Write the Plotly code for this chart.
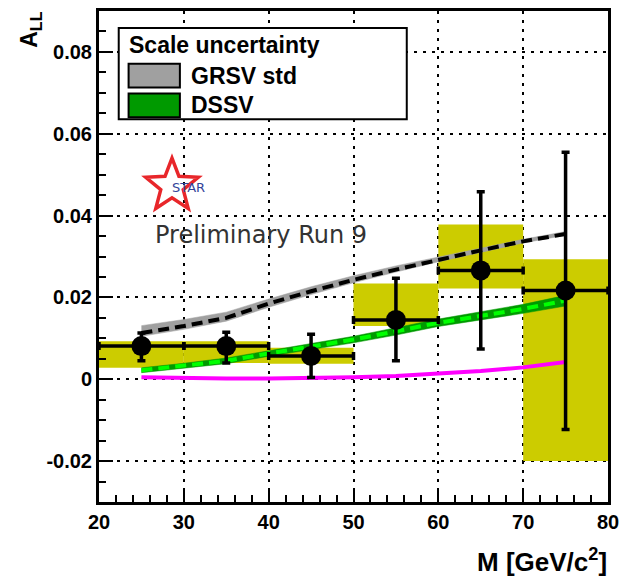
import math
import plotly.graph_objects as go

# ---------------- data ----------------
bin_lo = [20, 30, 40, 50, 60, 70]
bin_hi = [30, 40, 50, 60, 70, 80]
mass = [25, 35, 45, 55, 65, 75]
a_ll = [0.0081, 0.0081, 0.0057, 0.0145, 0.0266, 0.0217]
stat_top = [0.0113, 0.0115, 0.0110, 0.0247, 0.0458, 0.0555]
stat_bot = [0.0045, 0.0040, 0.0004, 0.0045, 0.0074, -0.0123]
sys_lo = [0.0028, 0.0040, 0.0038, 0.0130, 0.0222, -0.0200]
sys_hi = [0.0093, 0.0093, 0.0077, 0.0234, 0.0378, 0.0293]

theory_x = [25, 30, 35, 40, 45, 50, 55, 60, 65, 70, 75]
grsv_center = [0.0113, 0.0130, 0.0150, 0.0185, 0.0215, 0.0243, 0.0268, 0.0292, 0.0315, 0.0337, 0.0355]
grsv_hi = [0.0131, 0.0146, 0.0164, 0.0196, 0.0226, 0.0253, 0.0277, 0.0299, 0.0321, 0.0342, 0.0361]
grsv_lo = [0.0105, 0.0122, 0.0142, 0.0176, 0.0207, 0.0236, 0.0262, 0.0287, 0.0310, 0.0333, 0.0352]
dssv_center = [0.0022, 0.0033, 0.0045, 0.0063, 0.0080, 0.0097, 0.0117, 0.0138, 0.0155, 0.0172, 0.0192]
dssv_lo = [0.0016, 0.0027, 0.0038, 0.0056, 0.0072, 0.0089, 0.0108, 0.0129, 0.0145, 0.0161, 0.0179]
dssv_hi = [0.0028, 0.0039, 0.0052, 0.0070, 0.0088, 0.0105, 0.0126, 0.0147, 0.0165, 0.0183, 0.0205]
magenta_curve = [0.0005, 0.0003, 0.0002, 0.0002, 0.0003, 0.0005, 0.0008, 0.0013, 0.0020, 0.0029, 0.0042]

xtick_vals = [20, 30, 40, 50, 60, 70, 80]
xtick_text = ["20", "30", "40", "50", "60", "70", "80"]
ytick_vals = [-0.02, 0, 0.02, 0.04, 0.06, 0.08]
ytick_text = ["-0.02", "0", "0.02", "0.04", "0.06", "0.08"]

legend_header = "Scale uncertainty"
legend_labels = ["GRSV std", "DSSV"]
legend_colors = ["#a0a0a0", "#009a00"]

# ---------------- geometry helpers (frame in pixels) ----------------
W, H = 627, 581
L, R, T, B = 99, 615, 8, 502


def px(x):
    return (x - L) / (R - L)


def py(y):
    return (B - y) / (B - T)


fig = go.Figure()

# systematic boxes
fig.add_trace(go.Bar(
    x=mass,
    y=[h - l for h, l in zip(sys_hi, sys_lo)],
    base=sys_lo,
    width=[h - l for h, l in zip(bin_hi, bin_lo)],
    marker=dict(color="#cccc00", line=dict(width=0)),
    hoverinfo="skip", showlegend=False,
))

# GRSV band
fig.add_trace(go.Scatter(x=theory_x, y=grsv_lo, mode="lines",
                         line=dict(color="#a0a0a0", width=0.5), showlegend=False))
fig.add_trace(go.Scatter(x=theory_x, y=grsv_hi, mode="lines", fill="tonexty",
                         fillcolor="#a0a0a0",
                         line=dict(color="#a0a0a0", width=0.5), showlegend=False))
fig.add_trace(go.Scatter(x=theory_x, y=grsv_center, mode="lines",
                         line=dict(color="black", width=4, dash="11px,6px"),
                         showlegend=False))

# DSSV band
fig.add_trace(go.Scatter(x=theory_x, y=dssv_lo, mode="lines",
                         line=dict(color="#009a00", width=0.5), showlegend=False))
fig.add_trace(go.Scatter(x=theory_x, y=dssv_hi, mode="lines", fill="tonexty",
                         fillcolor="#009a00",
                         line=dict(color="#009a00", width=0.5), showlegend=False))
fig.add_trace(go.Scatter(x=theory_x, y=dssv_center, mode="lines",
                         line=dict(color="#00ff00", width=4, dash="11px,6px"),
                         showlegend=False))

# magenta curve
fig.add_trace(go.Scatter(x=theory_x, y=magenta_curve, mode="lines",
                         line=dict(color="#ff00ff", width=4), showlegend=False))

# data points
fig.add_trace(go.Scatter(
    x=mass, y=a_ll, mode="markers",
    marker=dict(symbol="circle", size=20, color="black"),
    error_x=dict(type="data", symmetric=False,
                 array=[h - m for h, m in zip(bin_hi, mass)],
                 arrayminus=[m - l for m, l in zip(mass, bin_lo)],
                 color="black", thickness=3.5, width=4),
    error_y=dict(type="data", symmetric=False,
                 array=[t - v for t, v in zip(stat_top, a_ll)],
                 arrayminus=[v - b for v, b in zip(a_ll, stat_bot)],
                 color="black", thickness=3.5, width=4),
    showlegend=False,
))

tickfont = dict(family="Liberation Sans", size=20, color="black", weight="bold")
grid_common = dict(showgrid=True, gridcolor="black", gridwidth=2, griddash="3px,6px",
                   showline=True, linecolor="black", linewidth=3, mirror=True,
                   ticks="inside", ticklen=14, tickwidth=2, tickcolor="black",
                   zeroline=False, tickfont=tickfont)

fig.update_xaxes(range=[20, 80], tickvals=xtick_vals, ticktext=xtick_text,
                 minor=dict(ticks="inside", ticklen=7, tickwidth=2, tickcolor="black",
                            dtick=2, tick0=20, showgrid=False),
                 **grid_common)
fig.update_yaxes(range=[-0.03, 0.09], tickvals=ytick_vals, ticktext=ytick_text,
                 minor=dict(ticks="inside", ticklen=7, tickwidth=2, tickcolor="black",
                            dtick=0.005, tick0=0, showgrid=False),
                 **grid_common)

shapes = []
annotations = []

# legend box
shapes.append(dict(type="rect", xref="paper", yref="paper",
                   x0=px(119), x1=px(411), y0=py(117), y1=py(25),
                   fillcolor="white", line=dict(color="black", width=2), layer="above"))
annotations.append(dict(xref="paper", yref="paper", x=px(127), y=py(42),
                        text=legend_header, showarrow=False, xanchor="left", yanchor="middle",
                        font=dict(family="Liberation Sans", size=23, color="black", weight="bold")))
row_y = [73, 103]
for lab, col, yc in zip(legend_labels, legend_colors, row_y):
    shapes.append(dict(type="rect", xref="paper", yref="paper",
                       x0=px(129), x1=px(181), y0=py(yc + 12), y1=py(yc - 12),
                       fillcolor=col, line=dict(color="black", width=2), layer="above"))
    annotations.append(dict(xref="paper", yref="paper", x=px(190), y=py(yc),
                            text=lab, showarrow=False, xanchor="left", yanchor="middle",
                            font=dict(family="Liberation Sans", size=23, color="black",
                                      weight="bold")))

# STAR logo star outline
cx, cy, Ro, Ri = 173, 184, 28, 12
pts = []
for k in range(10):
    ang = -math.pi / 2 + k * math.pi / 5
    rr = Ro if k % 2 == 0 else Ri
    pts.append((px(cx + rr * math.cos(ang)), py(cy + rr * math.sin(ang))))
path = "M " + " L ".join(f"{a:.5f},{b:.5f}" for a, b in pts) + " Z"
shapes.append(dict(type="path", xref="paper", yref="paper", path=path,
                   line=dict(color="#e8262a", width=3.5), fillcolor="rgba(0,0,0,0)",
                   layer="above"))
annotations.append(dict(xref="paper", yref="paper", x=px(190), y=py(186),
                        text="STAR", showarrow=False, xanchor="center", yanchor="middle",
                        font=dict(family="DejaVu Sans", size=13, color="#34449a")))

annotations.append(dict(xref="paper", yref="paper", x=px(154), y=py(233),
                        text="Preliminary Run 9", showarrow=False, xanchor="left",
                        yanchor="middle",
                        font=dict(family="DejaVu Sans", size=24, color="#333333")))

# axis titles
annotations.append(dict(xref="paper", yref="paper", x=px(616), y=py(561),
                        text="M [GeV/c<sup>2</sup>]", showarrow=False, xanchor="right",
                        yanchor="middle",
                        font=dict(family="Liberation Sans", size=26, color="black",
                                  weight="bold")))
annotations.append(dict(xref="paper", yref="paper", x=px(30), y=py(27),
                        text="A<sub>LL</sub>", showarrow=False, textangle=-90,
                        xanchor="center", yanchor="middle",
                        font=dict(family="Liberation Sans", size=23, color="black",
                                  weight="bold")))

fig.update_layout(
    width=W, height=H,
    margin=dict(l=L, r=W - R, t=T, b=H - B),
    plot_bgcolor="white", paper_bgcolor="white",
    barmode="overlay",
    showlegend=False,
    shapes=shapes,
    annotations=annotations,
)

fig.write_html(
    "out.html",
    config={"displayModeBar": False, "responsive": False},
    post_script="document.body.style.margin='0';document.body.style.padding='0';",
)
